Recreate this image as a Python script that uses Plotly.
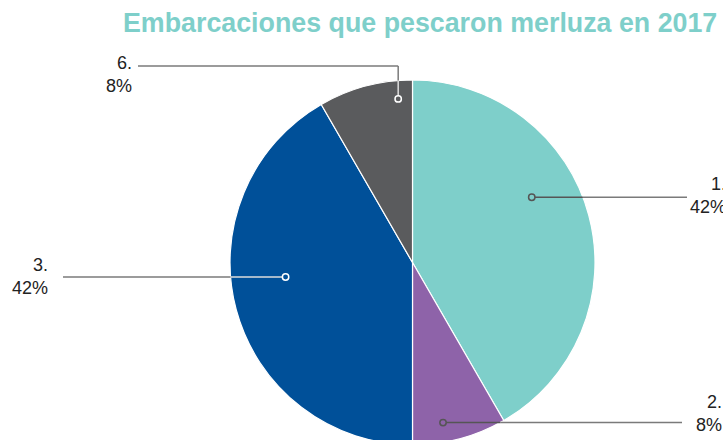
import math
import plotly.graph_objects as go

# ---- data ----
categories = ["1.", "2.", "3.", "6."]
values = [5, 1, 5, 1]
colors = ["#7ECFCA", "#8E63A9", "#005099", "#5A5B5D"]
title_text = "Embarcaciones que pescaron merluza en 2017"

# ---- layout constants (pixels, in screen coordinates) ----
W, H = 723, 446          # figure is slightly taller than the window so the pie runs off the bottom
PAGE_MARGIN = 0
CX, CY, R = 412.5, 262.5, 182.5

def px(x):
    return (x - PAGE_MARGIN) / W

def py(y):
    return 1 - (y - PAGE_MARGIN) / H

fig = go.Figure()
fig.add_trace(go.Pie(
    labels=categories,
    values=values,
    sort=False,
    direction="clockwise",
    rotation=0,
    marker=dict(colors=colors, line=dict(color="white", width=1.2)),
    textinfo="none",
    hoverinfo="label+percent",
    showlegend=False,
    domain=dict(x=[px(CX - R), px(CX + R)], y=[py(CY + R), py(CY - R)]),
))

total = sum(values)
pcts = [round(v / total * 100) for v in values]

placement = [
    dict(ang=61.3, frac=0.745, end=687, tx=728, ty=195, elbow=None, inner="#555555", dot="#555555"),
    dict(ang=169.2, frac=0.893, end=682, tx=724, ty=413.5, elbow=None, inner="#555555", dot="#555555"),
    dict(ang=263.5, frac=0.70, end=63, tx=50, ty=276.5, elbow=None, inner="#DDDDDD", dot="#FFFFFF"),
    dict(ang=355.0, frac=0.90, end=138, tx=133.5, ty=74, elbow=66, inner="#DDDDDD", dot="#FFFFFF"),
]

shapes = []
annotations = []
outer_col = "#7A7A7A"
lw = 1.5

def seg(x0, y0, x1, y1, col):
    shapes.append(dict(type="line", xref="paper", yref="paper",
                       x0=px(x0), y0=py(y0), x1=px(x1), y1=py(y1),
                       line=dict(color=col, width=lw)))

for cat, pct, col, p in zip(categories, pcts, colors, placement):
    a = math.radians(p["ang"])
    dx = CX + p["frac"] * R * math.sin(a)
    dy = CY - p["frac"] * R * math.cos(a)
    if p["elbow"] is None:
        half = math.sqrt(max(R * R - (dy - CY) ** 2, 0))
        bx = CX + half if p["end"] > dx else CX - half
        seg(dx, dy, bx, dy, p["inner"])
        seg(bx, dy, p["end"], dy, outer_col)
    else:
        half = math.sqrt(max(R * R - (dx - CX) ** 2, 0))
        by = CY - half
        seg(dx, dy, dx, by, p["inner"])
        seg(dx, by, dx, p["elbow"], outer_col)
        seg(dx, p["elbow"], p["end"], p["elbow"], outer_col)
    rr = 3.2
    shapes.append(dict(type="circle", xref="paper", yref="paper",
                       x0=px(dx - rr), x1=px(dx + rr), y0=py(dy - rr), y1=py(dy + rr),
                       fillcolor=col, line=dict(color=p["dot"], width=1.5)))
    annotations.append(dict(
        text=f"{cat}<br>{pct}%", xref="paper", yref="paper",
        x=px(p["tx"]), y=py(p["ty"]), xanchor="right", yanchor="middle",
        align="right", showarrow=False,
        font=dict(family="Liberation Sans, Arial, sans-serif", size=18, color="#222222"),
    ))

annotations.append(dict(
    text=f"<b>{title_text}</b>", xref="paper", yref="paper",
    x=px(121), y=py(23), xanchor="left", yanchor="middle", showarrow=False,
    font=dict(family="Liberation Sans, Arial, sans-serif", size=26.8, color="#7ECFCA"),
))

fig.update_layout(
    width=W, height=H,
    margin=dict(l=0, r=0, t=0, b=0),
    paper_bgcolor="white",
    plot_bgcolor="white",
    shapes=shapes,
    annotations=annotations,
)

fig.write_html(
    "out.html",
    config={"displayModeBar": False},
    post_script=(
        "document.body.style.margin='0';"
        "document.body.style.overflow='hidden';"
        "document.documentElement.style.overflow='hidden';"
    ),
)
